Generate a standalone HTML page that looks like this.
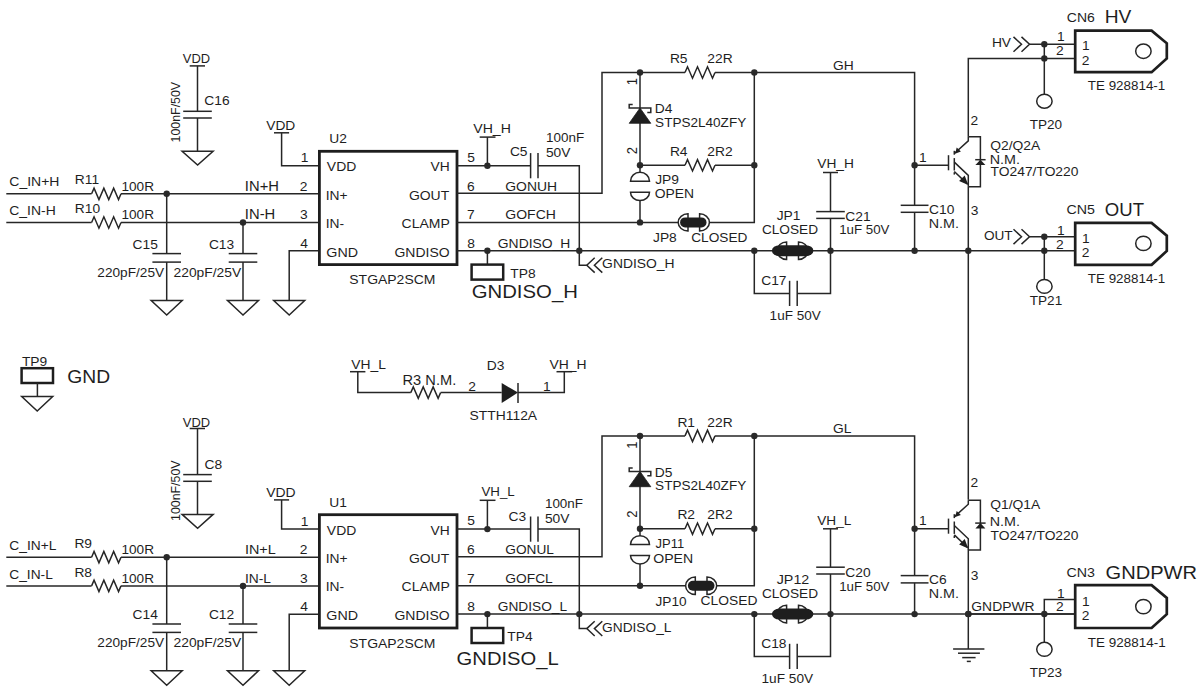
<!DOCTYPE html>
<html><head><meta charset="utf-8"><style>
html,body{margin:0;padding:0;background:#fff;}
svg{display:block;}
text{font-family:"Liberation Sans",sans-serif;fill:#1e1e1e;}
</style></head><body>
<svg width="1200" height="693" viewBox="0 0 1200 693">
<rect width="1200" height="693" fill="#fff"/>
<path d="M189.70,65.90 L205.00,65.90" fill="none" stroke="#262626" stroke-width="1.5"/>
<path d="M197.50,65.90 L197.50,111.30" fill="none" stroke="#262626" stroke-width="1.5"/>
<path d="M183.20,111.30 L211.80,111.30" fill="none" stroke="#262626" stroke-width="1.5"/>
<path d="M183.20,118.00 L211.80,118.00" fill="none" stroke="#262626" stroke-width="1.5"/>
<path d="M197.50,118.00 L197.50,151.20" fill="none" stroke="#262626" stroke-width="1.5"/>
<path d="M182.10,151.20 L213.10,151.20 L197.60,165.00 Z" fill="none" stroke="#262626" stroke-width="1.5"/>
<path d="M274.00,132.80 L289.10,132.80" fill="none" stroke="#262626" stroke-width="1.5"/>
<path d="M281.60,132.80 L281.60,165.70 L319.40,165.70" fill="none" stroke="#262626" stroke-width="1.5"/>
<path d="M6.30,193.80 L91.60,193.80" fill="none" stroke="#262626" stroke-width="1.5"/>
<path d="M91.60,193.80 L94.05,188.10 L98.95,199.50 L103.85,188.10 L108.75,199.50 L113.65,188.10 L118.55,199.50 L121.00,193.80" fill="none" stroke="#262626" stroke-width="1.5"/>
<path d="M121.00,193.80 L319.40,193.80" fill="none" stroke="#262626" stroke-width="1.5"/>
<path d="M6.30,222.50 L91.60,222.50" fill="none" stroke="#262626" stroke-width="1.5"/>
<path d="M91.60,222.50 L94.05,216.80 L98.95,228.20 L103.85,216.80 L108.75,228.20 L113.65,216.80 L118.55,228.20 L121.00,222.50" fill="none" stroke="#262626" stroke-width="1.5"/>
<path d="M121.00,222.50 L319.40,222.50" fill="none" stroke="#262626" stroke-width="1.5"/>
<circle cx="166.70" cy="193.80" r="3.2" fill="#2a2a2a"/>
<circle cx="243.00" cy="222.50" r="3.2" fill="#2a2a2a"/>
<path d="M166.70,193.80 L166.70,253.60" fill="none" stroke="#262626" stroke-width="1.5"/>
<path d="M152.40,253.60 L181.00,253.60" fill="none" stroke="#262626" stroke-width="1.5"/>
<path d="M152.40,262.10 L181.00,262.10" fill="none" stroke="#262626" stroke-width="1.5"/>
<path d="M166.70,262.10 L166.70,300.60" fill="none" stroke="#262626" stroke-width="1.5"/>
<path d="M151.20,300.60 L182.20,300.60 L166.70,315.00 Z" fill="none" stroke="#262626" stroke-width="1.5"/>
<path d="M243.00,222.50 L243.00,253.60" fill="none" stroke="#262626" stroke-width="1.5"/>
<path d="M228.70,253.60 L257.30,253.60" fill="none" stroke="#262626" stroke-width="1.5"/>
<path d="M228.70,262.10 L257.30,262.10" fill="none" stroke="#262626" stroke-width="1.5"/>
<path d="M243.00,262.10 L243.00,300.60" fill="none" stroke="#262626" stroke-width="1.5"/>
<path d="M227.50,300.60 L258.50,300.60 L243.00,315.00 Z" fill="none" stroke="#262626" stroke-width="1.5"/>
<path d="M319.40,250.80 L289.20,250.80 L289.20,300.60" fill="none" stroke="#262626" stroke-width="1.5"/>
<path d="M273.70,300.60 L304.70,300.60 L289.20,315.00 Z" fill="none" stroke="#262626" stroke-width="1.5"/>
<rect x="319.4" y="151.30" width="137.6" height="113.3" fill="none" stroke="#1e1e1e" stroke-width="2.8"/>
<path d="M457.00,165.70 L530.60,165.70" fill="none" stroke="#262626" stroke-width="1.5"/>
<circle cx="487.40" cy="165.70" r="3.2" fill="#2a2a2a"/>
<path d="M487.40,137.10 L487.40,165.70" fill="none" stroke="#262626" stroke-width="1.5"/>
<path d="M479.70,137.10 L495.50,137.10" fill="none" stroke="#262626" stroke-width="1.5"/>
<path d="M530.60,153.10 L530.60,178.30" fill="none" stroke="#262626" stroke-width="1.5"/>
<path d="M538.00,153.10 L538.00,178.30" fill="none" stroke="#262626" stroke-width="1.5"/>
<path d="M538.00,165.70 L579.30,165.70 L579.30,265.20 L586.80,265.20" fill="none" stroke="#262626" stroke-width="1.5"/>
<path d="M594.70,257.80 L586.80,265.20 L594.70,272.60" fill="none" stroke="#262626" stroke-width="1.5"/>
<path d="M602.30,257.80 L594.40,265.20 L602.30,272.60" fill="none" stroke="#262626" stroke-width="1.5"/>
<path d="M457.00,193.30 L602.00,193.30 L602.00,72.50 L685.00,72.50" fill="none" stroke="#262626" stroke-width="1.5"/>
<path d="M685.00,72.50 L687.50,66.80 L692.50,78.20 L697.50,66.80 L702.50,78.20 L707.50,66.80 L712.50,78.20 L715.00,72.50" fill="none" stroke="#262626" stroke-width="1.5"/>
<path d="M715.00,72.50 L914.60,72.50 L914.60,205.30" fill="none" stroke="#262626" stroke-width="1.5"/>
<circle cx="640.00" cy="72.50" r="3.2" fill="#2a2a2a"/>
<circle cx="754.30" cy="72.50" r="3.2" fill="#2a2a2a"/>
<path d="M457.00,222.40 L678.00,222.40" fill="none" stroke="#262626" stroke-width="1.5"/>
<path d="M708.70,222.40 L754.30,222.40 L754.30,72.50" fill="none" stroke="#262626" stroke-width="1.5"/>
<path d="M688.00,213.80 L688.00,231.00 A9.8,8.6 0 0 1 688.00,213.80 Z" fill="#fff" stroke="#262626" stroke-width="1.5"/>
<path d="M699.60,213.80 L699.60,231.00 A9.8,8.6 0 0 0 699.60,213.80 Z" fill="#fff" stroke="#262626" stroke-width="1.5"/>
<rect x="680.10" y="217.40" width="26.40" height="10.00" rx="5.0" ry="5.0" fill="#1e1e1e"/>
<circle cx="640.00" cy="222.40" r="3.2" fill="#2a2a2a"/>
<path d="M457.00,250.70 L1074.80,250.70" fill="none" stroke="#262626" stroke-width="1.5"/>
<circle cx="487.40" cy="250.70" r="3.2" fill="#2a2a2a"/>
<circle cx="579.30" cy="250.70" r="3.2" fill="#2a2a2a"/>
<circle cx="754.30" cy="250.70" r="3.2" fill="#2a2a2a"/>
<circle cx="830.50" cy="250.70" r="3.2" fill="#2a2a2a"/>
<circle cx="914.60" cy="250.70" r="3.2" fill="#2a2a2a"/>
<circle cx="968.30" cy="250.70" r="3.2" fill="#2a2a2a"/>
<path d="M487.40,250.70 L487.40,264.60" fill="none" stroke="#262626" stroke-width="1.5"/>
<rect x="471.6" y="264.60" width="31.6" height="15" fill="none" stroke="#1e1e1e" stroke-width="2.5"/>
<path d="M640.00,72.50 L640.00,165.30" fill="none" stroke="#262626" stroke-width="1.5"/>
<path d="M640.00,108.00 L629.20,123.30 L650.80,123.30 Z" fill="#1e1e1e" stroke="#1e1e1e" stroke-width="0.8"/>
<path d="M632.70,104.60 L629.20,104.60 L629.20,108.00 L650.80,108.00 L650.80,112.40 L647.30,112.40" fill="none" stroke="#262626" stroke-width="1.5"/>
<circle cx="640.00" cy="165.30" r="3.2" fill="#2a2a2a"/>
<path d="M640.00,165.30 L685.00,165.30" fill="none" stroke="#262626" stroke-width="1.5"/>
<path d="M685.00,165.30 L687.50,159.60 L692.50,171.00 L697.50,159.60 L702.50,171.00 L707.50,159.60 L712.50,171.00 L715.00,165.30" fill="none" stroke="#262626" stroke-width="1.5"/>
<path d="M715.00,165.30 L754.30,165.30" fill="none" stroke="#262626" stroke-width="1.5"/>
<circle cx="754.30" cy="165.30" r="3.2" fill="#2a2a2a"/>
<path d="M630.50,181.20 A9.5,8.899999999999977 0 0 1 649.50,181.20 Z" fill="none" stroke="#262626" stroke-width="1.5"/>
<path d="M630.50,192.20 A9.5,8.400000000000006 0 0 0 649.50,192.20 Z" fill="none" stroke="#262626" stroke-width="1.5"/>
<path d="M640.00,165.30 L640.00,172.30" fill="none" stroke="#262626" stroke-width="1.5"/>
<path d="M640.00,200.60 L640.00,222.40" fill="none" stroke="#262626" stroke-width="1.5"/>
<circle cx="914.60" cy="165.30" r="3.2" fill="#2a2a2a"/>
<path d="M900.70,205.30 L928.50,205.30" fill="none" stroke="#262626" stroke-width="1.5"/>
<path d="M900.70,212.30 L928.50,212.30" fill="none" stroke="#262626" stroke-width="1.5"/>
<path d="M914.60,212.30 L914.60,250.70" fill="none" stroke="#262626" stroke-width="1.5"/>
<path d="M914.60,165.30 L948.50,165.30" fill="none" stroke="#262626" stroke-width="1.5"/>
<path d="M948.50,155.20 L948.50,170.30" fill="none" stroke="#262626" stroke-width="1.5"/>
<path d="M954.30,150.80 L954.30,154.70" fill="none" stroke="#262626" stroke-width="1.5"/>
<path d="M954.30,158.10 L954.30,170.50" fill="none" stroke="#262626" stroke-width="1.5"/>
<path d="M954.30,172.30 L954.30,174.60" fill="none" stroke="#262626" stroke-width="1.5"/>
<path d="M954.30,153.50 L968.30,140.80 L968.30,136.80" fill="none" stroke="#262626" stroke-width="1.5"/>
<path d="M955.10,153.70 L956.70,147.50 L960.90,151.50 Z" fill="#1e1e1e"/>
<path d="M954.30,162.10 L968.30,175.40 L968.30,186.70" fill="none" stroke="#262626" stroke-width="1.5"/>
<path d="M954.30,171.50 L967.30,183.90" fill="none" stroke="#262626" stroke-width="1.5"/>
<path d="M968.30,185.10 L959.10,181.10 L964.70,175.50 Z" fill="#1e1e1e"/>
<path d="M968.30,136.80 L980.40,136.80 L980.40,186.70 L968.30,186.70" fill="none" stroke="#262626" stroke-width="1.5"/>
<path d="M980.40,159.70 L975.40,165.10 L985.40,165.10 Z" fill="#1e1e1e"/>
<path d="M975.20,159.70 L985.60,159.70" fill="none" stroke="#262626" stroke-width="1.5"/>
<path d="M823.00,172.50 L838.00,172.50" fill="none" stroke="#262626" stroke-width="1.5"/>
<path d="M830.50,172.50 L830.50,211.60" fill="none" stroke="#262626" stroke-width="1.5"/>
<path d="M816.20,211.60 L844.80,211.60" fill="none" stroke="#262626" stroke-width="1.5"/>
<path d="M816.20,218.40 L844.80,218.40" fill="none" stroke="#262626" stroke-width="1.5"/>
<path d="M830.50,218.40 L830.50,250.70" fill="none" stroke="#262626" stroke-width="1.5"/>
<path d="M786.60,241.90 L786.60,259.50 A9.5,8.8 0 0 1 786.60,241.90 Z" fill="#fff" stroke="#262626" stroke-width="1.5"/>
<path d="M798.50,241.90 L798.50,259.50 A9.5,8.8 0 0 0 798.50,241.90 Z" fill="#fff" stroke="#262626" stroke-width="1.5"/>
<rect x="771.90" y="245.20" width="41.50" height="11.00" rx="7.5" ry="5.5" fill="#1e1e1e"/>
<path d="M754.30,250.70 L754.30,293.40 L789.60,293.40" fill="none" stroke="#262626" stroke-width="1.5"/>
<path d="M797.20,293.40 L830.50,293.40 L830.50,250.70" fill="none" stroke="#262626" stroke-width="1.5"/>
<path d="M789.60,280.80 L789.60,306.00" fill="none" stroke="#262626" stroke-width="1.5"/>
<path d="M797.20,280.80 L797.20,306.00" fill="none" stroke="#262626" stroke-width="1.5"/>
<path d="M189.70,428.50 L205.00,428.50" fill="none" stroke="#262626" stroke-width="1.5"/>
<path d="M197.50,428.50 L197.50,474.60" fill="none" stroke="#262626" stroke-width="1.5"/>
<path d="M183.20,474.60 L211.80,474.60" fill="none" stroke="#262626" stroke-width="1.5"/>
<path d="M183.20,481.30 L211.80,481.30" fill="none" stroke="#262626" stroke-width="1.5"/>
<path d="M197.50,481.30 L197.50,514.40" fill="none" stroke="#262626" stroke-width="1.5"/>
<path d="M182.10,514.40 L213.10,514.40 L197.60,528.20 Z" fill="none" stroke="#262626" stroke-width="1.5"/>
<path d="M274.00,499.90 L289.10,499.90" fill="none" stroke="#262626" stroke-width="1.5"/>
<path d="M281.60,499.90 L281.60,529.10 L319.40,529.10" fill="none" stroke="#262626" stroke-width="1.5"/>
<path d="M6.30,557.20 L91.60,557.20" fill="none" stroke="#262626" stroke-width="1.5"/>
<path d="M91.60,557.20 L94.05,551.50 L98.95,562.90 L103.85,551.50 L108.75,562.90 L113.65,551.50 L118.55,562.90 L121.00,557.20" fill="none" stroke="#262626" stroke-width="1.5"/>
<path d="M121.00,557.20 L319.40,557.20" fill="none" stroke="#262626" stroke-width="1.5"/>
<path d="M6.30,585.90 L91.60,585.90" fill="none" stroke="#262626" stroke-width="1.5"/>
<path d="M91.60,585.90 L94.05,580.20 L98.95,591.60 L103.85,580.20 L108.75,591.60 L113.65,580.20 L118.55,591.60 L121.00,585.90" fill="none" stroke="#262626" stroke-width="1.5"/>
<path d="M121.00,585.90 L319.40,585.90" fill="none" stroke="#262626" stroke-width="1.5"/>
<circle cx="166.70" cy="557.20" r="3.2" fill="#2a2a2a"/>
<circle cx="243.00" cy="585.90" r="3.2" fill="#2a2a2a"/>
<path d="M166.70,557.20 L166.70,624.00" fill="none" stroke="#262626" stroke-width="1.5"/>
<path d="M152.40,624.00 L181.00,624.00" fill="none" stroke="#262626" stroke-width="1.5"/>
<path d="M152.40,632.40 L181.00,632.40" fill="none" stroke="#262626" stroke-width="1.5"/>
<path d="M166.70,632.40 L166.70,670.80" fill="none" stroke="#262626" stroke-width="1.5"/>
<path d="M151.20,670.80 L182.20,670.80 L166.70,685.20 Z" fill="none" stroke="#262626" stroke-width="1.5"/>
<path d="M243.00,585.90 L243.00,624.00" fill="none" stroke="#262626" stroke-width="1.5"/>
<path d="M228.70,624.00 L257.30,624.00" fill="none" stroke="#262626" stroke-width="1.5"/>
<path d="M228.70,632.40 L257.30,632.40" fill="none" stroke="#262626" stroke-width="1.5"/>
<path d="M243.00,632.40 L243.00,670.80" fill="none" stroke="#262626" stroke-width="1.5"/>
<path d="M227.50,670.80 L258.50,670.80 L243.00,685.20 Z" fill="none" stroke="#262626" stroke-width="1.5"/>
<path d="M319.40,614.20 L289.20,614.20 L289.20,670.80" fill="none" stroke="#262626" stroke-width="1.5"/>
<path d="M273.70,670.80 L304.70,670.80 L289.20,685.20 Z" fill="none" stroke="#262626" stroke-width="1.5"/>
<rect x="319.4" y="514.70" width="137.6" height="113.3" fill="none" stroke="#1e1e1e" stroke-width="2.8"/>
<path d="M457.00,529.10 L530.60,529.10" fill="none" stroke="#262626" stroke-width="1.5"/>
<circle cx="487.40" cy="529.10" r="3.2" fill="#2a2a2a"/>
<path d="M487.40,500.30 L487.40,529.10" fill="none" stroke="#262626" stroke-width="1.5"/>
<path d="M479.70,500.30 L495.50,500.30" fill="none" stroke="#262626" stroke-width="1.5"/>
<path d="M530.60,516.50 L530.60,541.70" fill="none" stroke="#262626" stroke-width="1.5"/>
<path d="M538.00,516.50 L538.00,541.70" fill="none" stroke="#262626" stroke-width="1.5"/>
<path d="M538.00,529.10 L579.30,529.10 L579.30,628.60 L586.80,628.60" fill="none" stroke="#262626" stroke-width="1.5"/>
<path d="M594.70,621.20 L586.80,628.60 L594.70,636.00" fill="none" stroke="#262626" stroke-width="1.5"/>
<path d="M602.30,621.20 L594.40,628.60 L602.30,636.00" fill="none" stroke="#262626" stroke-width="1.5"/>
<path d="M457.00,556.70 L602.00,556.70 L602.00,435.90 L685.00,435.90" fill="none" stroke="#262626" stroke-width="1.5"/>
<path d="M685.00,435.90 L687.50,430.20 L692.50,441.60 L697.50,430.20 L702.50,441.60 L707.50,430.20 L712.50,441.60 L715.00,435.90" fill="none" stroke="#262626" stroke-width="1.5"/>
<path d="M715.00,435.90 L914.60,435.90 L914.60,575.60" fill="none" stroke="#262626" stroke-width="1.5"/>
<circle cx="640.00" cy="435.90" r="3.2" fill="#2a2a2a"/>
<circle cx="754.30" cy="435.90" r="3.2" fill="#2a2a2a"/>
<path d="M457.00,585.80 L686.00,585.80" fill="none" stroke="#262626" stroke-width="1.5"/>
<path d="M716.00,585.80 L754.30,585.80 L754.30,435.90" fill="none" stroke="#262626" stroke-width="1.5"/>
<path d="M695.30,577.10 L695.30,594.50 A9.7,8.7 0 0 1 695.30,577.10 Z" fill="#fff" stroke="#262626" stroke-width="1.5"/>
<path d="M707.00,577.10 L707.00,594.50 A9.7,8.7 0 0 0 707.00,577.10 Z" fill="#fff" stroke="#262626" stroke-width="1.5"/>
<rect x="687.90" y="580.80" width="26.60" height="10.00" rx="5.0" ry="5.0" fill="#1e1e1e"/>
<circle cx="640.00" cy="585.80" r="3.2" fill="#2a2a2a"/>
<path d="M457.00,614.10 L1074.80,614.10" fill="none" stroke="#262626" stroke-width="1.5"/>
<circle cx="487.40" cy="614.10" r="3.2" fill="#2a2a2a"/>
<circle cx="579.30" cy="614.10" r="3.2" fill="#2a2a2a"/>
<circle cx="754.30" cy="614.10" r="3.2" fill="#2a2a2a"/>
<circle cx="830.50" cy="614.10" r="3.2" fill="#2a2a2a"/>
<circle cx="914.60" cy="614.10" r="3.2" fill="#2a2a2a"/>
<circle cx="968.30" cy="614.10" r="3.2" fill="#2a2a2a"/>
<path d="M487.40,614.10 L487.40,628.00" fill="none" stroke="#262626" stroke-width="1.5"/>
<rect x="471.6" y="628.00" width="31.6" height="15" fill="none" stroke="#1e1e1e" stroke-width="2.5"/>
<path d="M640.00,435.90 L640.00,528.70" fill="none" stroke="#262626" stroke-width="1.5"/>
<path d="M640.00,471.40 L629.20,486.70 L650.80,486.70 Z" fill="#1e1e1e" stroke="#1e1e1e" stroke-width="0.8"/>
<path d="M632.70,468.00 L629.20,468.00 L629.20,471.40 L650.80,471.40 L650.80,475.80 L647.30,475.80" fill="none" stroke="#262626" stroke-width="1.5"/>
<circle cx="640.00" cy="528.70" r="3.2" fill="#2a2a2a"/>
<path d="M640.00,528.70 L685.00,528.70" fill="none" stroke="#262626" stroke-width="1.5"/>
<path d="M685.00,528.70 L687.50,523.00 L692.50,534.40 L697.50,523.00 L702.50,534.40 L707.50,523.00 L712.50,534.40 L715.00,528.70" fill="none" stroke="#262626" stroke-width="1.5"/>
<path d="M715.00,528.70 L754.30,528.70" fill="none" stroke="#262626" stroke-width="1.5"/>
<circle cx="754.30" cy="528.70" r="3.2" fill="#2a2a2a"/>
<path d="M630.50,544.60 A9.5,8.899999999999864 0 0 1 649.50,544.60 Z" fill="none" stroke="#262626" stroke-width="1.5"/>
<path d="M630.50,555.60 A9.5,8.400000000000091 0 0 0 649.50,555.60 Z" fill="none" stroke="#262626" stroke-width="1.5"/>
<path d="M640.00,528.70 L640.00,535.70" fill="none" stroke="#262626" stroke-width="1.5"/>
<path d="M640.00,564.00 L640.00,585.80" fill="none" stroke="#262626" stroke-width="1.5"/>
<circle cx="914.60" cy="528.70" r="3.2" fill="#2a2a2a"/>
<path d="M900.70,575.60 L928.50,575.60" fill="none" stroke="#262626" stroke-width="1.5"/>
<path d="M900.70,582.90 L928.50,582.90" fill="none" stroke="#262626" stroke-width="1.5"/>
<path d="M914.60,582.90 L914.60,614.10" fill="none" stroke="#262626" stroke-width="1.5"/>
<path d="M914.60,528.70 L948.50,528.70" fill="none" stroke="#262626" stroke-width="1.5"/>
<path d="M948.50,518.60 L948.50,533.70" fill="none" stroke="#262626" stroke-width="1.5"/>
<path d="M954.30,514.20 L954.30,518.10" fill="none" stroke="#262626" stroke-width="1.5"/>
<path d="M954.30,521.50 L954.30,533.90" fill="none" stroke="#262626" stroke-width="1.5"/>
<path d="M954.30,535.70 L954.30,538.00" fill="none" stroke="#262626" stroke-width="1.5"/>
<path d="M954.30,516.90 L968.30,504.20 L968.30,500.20" fill="none" stroke="#262626" stroke-width="1.5"/>
<path d="M955.10,517.10 L956.70,510.90 L960.90,514.90 Z" fill="#1e1e1e"/>
<path d="M954.30,525.50 L968.30,538.80 L968.30,550.10" fill="none" stroke="#262626" stroke-width="1.5"/>
<path d="M954.30,534.90 L967.30,547.30" fill="none" stroke="#262626" stroke-width="1.5"/>
<path d="M968.30,548.50 L959.10,544.50 L964.70,538.90 Z" fill="#1e1e1e"/>
<path d="M968.30,500.20 L980.40,500.20 L980.40,550.10 L968.30,550.10" fill="none" stroke="#262626" stroke-width="1.5"/>
<path d="M980.40,523.10 L975.40,528.50 L985.40,528.50 Z" fill="#1e1e1e"/>
<path d="M975.20,523.10 L985.60,523.10" fill="none" stroke="#262626" stroke-width="1.5"/>
<path d="M823.00,528.80 L838.00,528.80" fill="none" stroke="#262626" stroke-width="1.5"/>
<path d="M830.50,528.80 L830.50,567.20" fill="none" stroke="#262626" stroke-width="1.5"/>
<path d="M816.20,567.20 L844.80,567.20" fill="none" stroke="#262626" stroke-width="1.5"/>
<path d="M816.20,574.00 L844.80,574.00" fill="none" stroke="#262626" stroke-width="1.5"/>
<path d="M830.50,574.00 L830.50,614.10" fill="none" stroke="#262626" stroke-width="1.5"/>
<path d="M786.60,605.30 L786.60,622.90 A9.5,8.8 0 0 1 786.60,605.30 Z" fill="#fff" stroke="#262626" stroke-width="1.5"/>
<path d="M798.50,605.30 L798.50,622.90 A9.5,8.8 0 0 0 798.50,605.30 Z" fill="#fff" stroke="#262626" stroke-width="1.5"/>
<rect x="771.90" y="608.60" width="41.50" height="11.00" rx="7.5" ry="5.5" fill="#1e1e1e"/>
<path d="M754.30,614.10 L754.30,656.40 L789.60,656.40" fill="none" stroke="#262626" stroke-width="1.5"/>
<path d="M797.20,656.40 L830.50,656.40 L830.50,614.10" fill="none" stroke="#262626" stroke-width="1.5"/>
<path d="M789.60,643.80 L789.60,669.00" fill="none" stroke="#262626" stroke-width="1.5"/>
<path d="M797.20,643.80 L797.20,669.00" fill="none" stroke="#262626" stroke-width="1.5"/>
<path d="M968.30,136.80 L968.30,58.40 L1074.80,58.40" fill="none" stroke="#262626" stroke-width="1.5"/>
<path d="M968.30,186.70 L968.30,499.80" fill="none" stroke="#262626" stroke-width="1.5"/>
<path d="M968.30,549.70 L968.30,649.00" fill="none" stroke="#262626" stroke-width="1.5"/>
<path d="M953.10,649.00 L984.40,649.00" fill="none" stroke="#262626" stroke-width="1.5"/>
<path d="M958.00,653.20 L979.90,653.20" fill="none" stroke="#262626" stroke-width="1.5"/>
<path d="M962.20,657.60 L975.60,657.60" fill="none" stroke="#262626" stroke-width="1.5"/>
<path d="M966.80,661.40 L970.80,661.40" fill="none" stroke="#262626" stroke-width="1.5"/>
<circle cx="968.30" cy="614.00" r="3.2" fill="#2a2a2a"/>
<path d="M1013.50,36.90 L1021.50,44.30 L1013.50,51.70" fill="none" stroke="#262626" stroke-width="1.5"/>
<path d="M1021.50,36.90 L1029.50,44.30 L1021.50,51.70" fill="none" stroke="#262626" stroke-width="1.5"/>
<path d="M1029.50,44.30 L1074.80,44.30" fill="none" stroke="#262626" stroke-width="1.5"/>
<circle cx="1044.30" cy="44.30" r="3.2" fill="#2a2a2a"/>
<circle cx="1044.30" cy="58.40" r="3.2" fill="#2a2a2a"/>
<path d="M1044.30,44.30 L1044.30,94.30" fill="none" stroke="#262626" stroke-width="1.5"/>
<ellipse cx="1044.4" cy="101.2" rx="7.7" ry="6.95" fill="none" stroke="#262626" stroke-width="1.5"/>
<path d="M1075.2,30.6 L1151.6,30.6 L1166.8,43.3 L1166.8,58.400000000000006 L1151.6,72.2 L1075.2,72.2 Z" fill="none" stroke="#1e1e1e" stroke-width="2.7" stroke-linejoin="miter"/>
<ellipse cx="1143.4" cy="51.20" rx="7.7" ry="7.2" fill="none" stroke="#262626" stroke-width="1.5"/>
<path d="M1013.50,229.30 L1021.50,236.70 L1013.50,244.10" fill="none" stroke="#262626" stroke-width="1.5"/>
<path d="M1021.50,229.30 L1029.50,236.70 L1021.50,244.10" fill="none" stroke="#262626" stroke-width="1.5"/>
<path d="M1029.50,236.70 L1074.80,236.70" fill="none" stroke="#262626" stroke-width="1.5"/>
<circle cx="1044.30" cy="236.70" r="3.2" fill="#2a2a2a"/>
<circle cx="1044.30" cy="250.70" r="3.2" fill="#2a2a2a"/>
<path d="M1044.30,236.70 L1044.30,279.50" fill="none" stroke="#262626" stroke-width="1.5"/>
<ellipse cx="1044.4" cy="286.4" rx="7.7" ry="6.95" fill="none" stroke="#262626" stroke-width="1.5"/>
<path d="M1075.2,222.9 L1151.6,222.9 L1166.8,235.6 L1166.8,251.0 L1151.6,264.8 L1075.2,264.8 Z" fill="none" stroke="#1e1e1e" stroke-width="2.7" stroke-linejoin="miter"/>
<ellipse cx="1143.4" cy="243.40" rx="7.7" ry="7.2" fill="none" stroke="#262626" stroke-width="1.5"/>
<path d="M1044.30,614.00 L1044.30,599.60 L1074.80,599.60" fill="none" stroke="#262626" stroke-width="1.5"/>
<path d="M968.30,614.00 L1074.80,614.00" fill="none" stroke="#262626" stroke-width="1.5"/>
<circle cx="1044.30" cy="614.00" r="3.2" fill="#2a2a2a"/>
<path d="M1044.30,614.00 L1044.30,642.40" fill="none" stroke="#262626" stroke-width="1.5"/>
<ellipse cx="1044.4" cy="649.3" rx="7.7" ry="6.95" fill="none" stroke="#262626" stroke-width="1.5"/>
<path d="M1075.2,585.2 L1151.6,585.2 L1166.8,597.9000000000001 L1166.8,614.2 L1151.6,628.0 L1075.2,628.0 Z" fill="none" stroke="#1e1e1e" stroke-width="2.7" stroke-linejoin="miter"/>
<ellipse cx="1143.4" cy="606.60" rx="7.7" ry="7.2" fill="none" stroke="#262626" stroke-width="1.5"/>
<rect x="21.6" y="368.2" width="31.4" height="14.8" fill="none" stroke="#1e1e1e" stroke-width="2.5"/>
<path d="M37.40,383.00 L37.40,396.60" fill="none" stroke="#262626" stroke-width="1.5"/>
<path d="M21.70,396.60 L52.70,396.60 L37.20,411.00 Z" fill="none" stroke="#262626" stroke-width="1.5"/>
<path d="M350.00,371.70 L365.40,371.70" fill="none" stroke="#262626" stroke-width="1.5"/>
<path d="M357.80,371.70 L357.80,392.60 L410.80,392.60" fill="none" stroke="#262626" stroke-width="1.5"/>
<path d="M410.80,392.60 L413.28,386.90 L418.25,398.30 L423.22,386.90 L428.18,398.30 L433.15,386.90 L438.12,398.30 L440.60,392.60" fill="none" stroke="#262626" stroke-width="1.5"/>
<path d="M440.60,392.60 L501.70,392.60" fill="none" stroke="#262626" stroke-width="1.5"/>
<path d="M501.7,383 L501.7,403 L518,392.6 Z" fill="#1e1e1e"/>
<path d="M518.00,383.00 L518.00,403.00" fill="none" stroke="#262626" stroke-width="1.5"/>
<path d="M518.00,392.60 L564.30,392.60 L564.30,371.70" fill="none" stroke="#262626" stroke-width="1.5"/>
<path d="M556.50,371.70 L572.20,371.70" fill="none" stroke="#262626" stroke-width="1.5"/>
<text transform="translate(182.87,63.00) scale(1,0.94)" font-size="12.93">VDD</text>
<text transform="translate(204.31,105.40) scale(1,0.94)" font-size="13.80">C16</text>
<text transform="translate(179.50,141.40) rotate(-90) scale(0.94,1)" x="-1.05" y="0" font-size="13.14">100nF/50V</text>
<text transform="translate(266.26,130.30) scale(1,0.94)" font-size="13.76">VDD</text>
<text transform="translate(9.30,185.70) scale(1,0.94)" font-size="14.00">C_IN+H</text>
<text transform="translate(9.30,214.90) scale(1,0.94)" font-size="13.94">C_IN-H</text>
<text transform="translate(74.80,183.80) scale(1,0.94)" font-size="13.80">R11</text>
<text transform="translate(74.80,212.70) scale(1,0.94)" font-size="13.80">R10</text>
<text transform="translate(244.87,190.90) scale(1,0.94)" font-size="14.77">IN+H</text>
<text transform="translate(244.87,219.20) scale(1,0.94)" font-size="14.79">IN-H</text>
<text transform="translate(121.41,190.90) scale(1,0.94)" font-size="13.63">100R</text>
<text transform="translate(121.41,219.20) scale(1,0.94)" font-size="13.63">100R</text>
<text transform="translate(132.61,248.50) scale(1,0.94)" font-size="13.80">C15</text>
<text transform="translate(208.91,248.50) scale(1,0.94)" font-size="13.80">C13</text>
<text transform="translate(97.32,277.20) scale(1,0.94)" font-size="13.66">220pF/25V</text>
<text transform="translate(173.51,277.20) scale(1,0.94)" font-size="13.84">220pF/25V</text>
<text transform="translate(329.20,143.40) scale(1,0.94)" font-size="13.80">U2</text>
<text transform="translate(300.70,162.40) scale(1,0.94)" font-size="13.80">1</text>
<text transform="translate(299.81,190.90) scale(1,0.94)" font-size="13.80">2</text>
<text transform="translate(299.95,219.20) scale(1,0.94)" font-size="13.80">3</text>
<text transform="translate(300.22,247.70) scale(1,0.94)" font-size="13.80">4</text>
<text transform="translate(326.86,171.20) scale(1,0.94)" font-size="13.95">VDD</text>
<text transform="translate(325.76,199.70) scale(1,0.94)" font-size="13.80">IN+</text>
<text transform="translate(325.76,228.00) scale(1,0.94)" font-size="13.80">IN-</text>
<text transform="translate(326.29,256.60) scale(1,0.94)" font-size="14.29">GND</text>
<text transform="translate(430.46,171.20) scale(1,0.94)" font-size="13.80">VH</text>
<text transform="translate(408.90,199.70) scale(1,0.94)" font-size="13.97">GOUT</text>
<text transform="translate(401.60,228.00) scale(1,0.94)" font-size="13.98">CLAMP</text>
<text transform="translate(394.50,256.60) scale(1,0.94)" font-size="13.97">GNDISO</text>
<text transform="translate(467.25,162.00) scale(1,0.94)" font-size="13.80">5</text>
<text transform="translate(467.11,190.90) scale(1,0.94)" font-size="13.80">6</text>
<text transform="translate(467.11,219.20) scale(1,0.94)" font-size="13.80">7</text>
<text transform="translate(467.25,247.70) scale(1,0.94)" font-size="13.80">8</text>
<text transform="translate(349.30,284.10) scale(1,0.94)" font-size="13.97">STGAP2SCM</text>
<text transform="translate(473.26,133.00) scale(1,0.94)" font-size="14.11">VH_H</text>
<text transform="translate(509.91,155.50) scale(1,0.94)" font-size="13.80">C5</text>
<text transform="translate(546.12,142.30) scale(1,0.94)" font-size="13.46">100nF</text>
<text transform="translate(545.95,156.70) scale(1,0.94)" font-size="13.80">50V</text>
<text transform="translate(602.11,268.40) scale(1,0.94)" font-size="13.89">GNDISO_H</text>
<text transform="translate(505.30,190.60) scale(1,0.94)" font-size="13.93">GONUH</text>
<text transform="translate(505.30,219.10) scale(1,0.94)" font-size="14.02">GOFCH</text>
<text transform="translate(653.02,241.90) scale(1,0.94)" font-size="13.80">JP8</text>
<text transform="translate(691.22,241.90) scale(1,0.94)" font-size="13.67">CLOSED</text>
<text transform="translate(497.81,247.70) scale(1,0.94)" font-size="13.89">GNDISO_H</text>
<text transform="translate(510.32,278.00) scale(1,0.94)" font-size="13.80">TP8</text>
<text transform="translate(471.68,298.20) scale(1,0.94)" font-size="20.35">GNDISO_H</text>
<text transform="translate(636.60,84.20) rotate(-90) scale(0.94,1)" x="-1.10" y="0" font-size="13.80">1</text>
<text transform="translate(636.60,153.60) rotate(-90) scale(0.94,1)" x="-0.69" y="0" font-size="13.80">2</text>
<text transform="translate(669.90,63.20) scale(1,0.94)" font-size="13.80">R5</text>
<text transform="translate(707.31,63.20) scale(1,0.94)" font-size="13.80">22R</text>
<text transform="translate(654.70,113.20) scale(1,0.94)" font-size="13.80">D4</text>
<text transform="translate(655.12,127.10) scale(1,0.94)" font-size="13.56">STPS2L40ZFY</text>
<text transform="translate(669.90,156.20) scale(1,0.94)" font-size="13.80">R4</text>
<text transform="translate(707.31,156.20) scale(1,0.94)" font-size="13.80">2R2</text>
<text transform="translate(655.22,183.80) scale(1,0.94)" font-size="13.80">JP9</text>
<text transform="translate(654.81,198.00) scale(1,0.94)" font-size="13.89">OPEN</text>
<text transform="translate(833.11,70.30) scale(1,0.94)" font-size="13.80">GH</text>
<text transform="translate(919.10,161.60) scale(1,0.94)" font-size="13.80">1</text>
<text transform="translate(970.61,124.60) scale(1,0.94)" font-size="13.80">2</text>
<text transform="translate(970.75,215.40) scale(1,0.94)" font-size="13.80">3</text>
<text transform="translate(929.11,214.10) scale(1,0.94)" font-size="13.80">C10</text>
<text transform="translate(928.65,228.00) scale(1,0.94)" font-size="14.33">N.M.</text>
<text transform="translate(990.21,150.00) scale(1,0.94)" font-size="13.85">Q2/Q2A</text>
<text transform="translate(989.75,163.90) scale(1,0.94)" font-size="14.33">N.M.</text>
<text transform="translate(990.62,176.20) scale(1,0.94)" font-size="13.83">TO247/TO220</text>
<text transform="translate(817.26,167.90) scale(1,0.94)" font-size="13.72">VH_H</text>
<text transform="translate(845.31,220.90) scale(1,0.94)" font-size="13.80">C21</text>
<text transform="translate(839.13,234.30) scale(1,0.94)" font-size="13.33">1uF 50V</text>
<text transform="translate(776.72,220.40) scale(1,0.94)" font-size="13.80">JP1</text>
<text transform="translate(761.92,234.30) scale(1,0.94)" font-size="13.67">CLOSED</text>
<text transform="translate(761.21,284.80) scale(1,0.94)" font-size="13.80">C17</text>
<text transform="translate(769.62,320.00) scale(1,0.94)" font-size="13.55">1uF 50V</text>
<text transform="translate(182.87,426.50) scale(1,0.94)" font-size="12.93">VDD</text>
<text transform="translate(204.61,469.40) scale(1,0.94)" font-size="13.80">C8</text>
<text transform="translate(179.50,520.00) rotate(-90) scale(0.94,1)" x="-1.05" y="0" font-size="13.16">100nF/50V</text>
<text transform="translate(266.26,497.40) scale(1,0.94)" font-size="13.95">VDD</text>
<text transform="translate(9.31,549.60) scale(1,0.94)" font-size="13.77">C_IN+L</text>
<text transform="translate(9.31,578.60) scale(1,0.94)" font-size="13.75">C_IN-L</text>
<text transform="translate(74.40,547.80) scale(1,0.94)" font-size="13.80">R9</text>
<text transform="translate(74.40,576.60) scale(1,0.94)" font-size="13.80">R8</text>
<text transform="translate(244.90,554.10) scale(1,0.94)" font-size="14.41">IN+L</text>
<text transform="translate(244.96,583.10) scale(1,0.94)" font-size="13.80">IN-L</text>
<text transform="translate(121.41,554.30) scale(1,0.94)" font-size="13.63">100R</text>
<text transform="translate(121.41,582.60) scale(1,0.94)" font-size="13.63">100R</text>
<text transform="translate(132.61,618.50) scale(1,0.94)" font-size="13.80">C14</text>
<text transform="translate(208.91,618.50) scale(1,0.94)" font-size="13.80">C12</text>
<text transform="translate(97.32,647.20) scale(1,0.94)" font-size="13.66">220pF/25V</text>
<text transform="translate(173.51,647.20) scale(1,0.94)" font-size="13.84">220pF/25V</text>
<text transform="translate(329.20,506.80) scale(1,0.94)" font-size="13.80">U1</text>
<text transform="translate(300.70,525.80) scale(1,0.94)" font-size="13.80">1</text>
<text transform="translate(299.81,554.30) scale(1,0.94)" font-size="13.80">2</text>
<text transform="translate(299.95,582.60) scale(1,0.94)" font-size="13.80">3</text>
<text transform="translate(300.22,611.10) scale(1,0.94)" font-size="13.80">4</text>
<text transform="translate(326.86,534.60) scale(1,0.94)" font-size="13.95">VDD</text>
<text transform="translate(325.76,563.10) scale(1,0.94)" font-size="13.80">IN+</text>
<text transform="translate(325.76,591.40) scale(1,0.94)" font-size="13.80">IN-</text>
<text transform="translate(326.29,620.00) scale(1,0.94)" font-size="14.29">GND</text>
<text transform="translate(430.46,534.60) scale(1,0.94)" font-size="13.80">VH</text>
<text transform="translate(408.90,563.10) scale(1,0.94)" font-size="13.97">GOUT</text>
<text transform="translate(401.60,591.40) scale(1,0.94)" font-size="13.98">CLAMP</text>
<text transform="translate(394.50,620.00) scale(1,0.94)" font-size="13.97">GNDISO</text>
<text transform="translate(467.25,525.40) scale(1,0.94)" font-size="13.80">5</text>
<text transform="translate(467.11,554.30) scale(1,0.94)" font-size="13.80">6</text>
<text transform="translate(467.11,582.60) scale(1,0.94)" font-size="13.80">7</text>
<text transform="translate(467.25,611.10) scale(1,0.94)" font-size="13.80">8</text>
<text transform="translate(349.30,647.50) scale(1,0.94)" font-size="13.97">STGAP2SCM</text>
<text transform="translate(481.47,496.30) scale(1,0.94)" font-size="13.33">VH_L</text>
<text transform="translate(508.61,520.70) scale(1,0.94)" font-size="13.80">C3</text>
<text transform="translate(544.92,507.80) scale(1,0.94)" font-size="13.46">100nF</text>
<text transform="translate(544.95,522.90) scale(1,0.94)" font-size="13.80">50V</text>
<text transform="translate(602.11,631.80) scale(1,0.94)" font-size="13.72">GNDISO_L</text>
<text transform="translate(505.32,554.00) scale(1,0.94)" font-size="13.69">GONUL</text>
<text transform="translate(505.31,582.50) scale(1,0.94)" font-size="13.78">GOFCL</text>
<text transform="translate(655.53,605.90) scale(1,0.94)" font-size="13.65">JP10</text>
<text transform="translate(700.61,605.40) scale(1,0.94)" font-size="13.84">CLOSED</text>
<text transform="translate(497.81,611.10) scale(1,0.94)" font-size="13.72">GNDISO_L</text>
<text transform="translate(507.32,640.50) scale(1,0.94)" font-size="13.80">TP4</text>
<text transform="translate(456.59,664.50) scale(1,0.94)" font-size="20.20">GNDISO_L</text>
<text transform="translate(636.60,447.60) rotate(-90) scale(0.94,1)" x="-1.10" y="0" font-size="13.80">1</text>
<text transform="translate(636.60,517.00) rotate(-90) scale(0.94,1)" x="-0.69" y="0" font-size="13.80">2</text>
<text transform="translate(677.40,426.50) scale(1,0.94)" font-size="13.80">R1</text>
<text transform="translate(707.31,426.50) scale(1,0.94)" font-size="13.80">22R</text>
<text transform="translate(654.70,476.50) scale(1,0.94)" font-size="13.80">D5</text>
<text transform="translate(655.12,490.40) scale(1,0.94)" font-size="13.56">STPS2L40ZFY</text>
<text transform="translate(677.40,519.20) scale(1,0.94)" font-size="13.80">R2</text>
<text transform="translate(707.31,519.20) scale(1,0.94)" font-size="13.80">2R2</text>
<text transform="translate(655.54,547.70) scale(1,0.94)" font-size="12.99">JP11</text>
<text transform="translate(653.30,562.90) scale(1,0.94)" font-size="14.07">OPEN</text>
<text transform="translate(833.11,433.40) scale(1,0.94)" font-size="13.80">GL</text>
<text transform="translate(919.10,525.00) scale(1,0.94)" font-size="13.80">1</text>
<text transform="translate(970.61,487.10) scale(1,0.94)" font-size="13.80">2</text>
<text transform="translate(970.75,579.90) scale(1,0.94)" font-size="13.80">3</text>
<text transform="translate(929.11,583.60) scale(1,0.94)" font-size="13.80">C6</text>
<text transform="translate(928.65,597.50) scale(1,0.94)" font-size="14.33">N.M.</text>
<text transform="translate(990.21,509.00) scale(1,0.94)" font-size="13.85">Q1/Q1A</text>
<text transform="translate(989.75,526.30) scale(1,0.94)" font-size="14.33">N.M.</text>
<text transform="translate(990.62,540.00) scale(1,0.94)" font-size="13.83">TO247/TO220</text>
<text transform="translate(817.26,525.00) scale(1,0.94)" font-size="13.66">VH_L</text>
<text transform="translate(845.31,576.60) scale(1,0.94)" font-size="13.80">C20</text>
<text transform="translate(839.13,591.20) scale(1,0.94)" font-size="13.33">1uF 50V</text>
<text transform="translate(776.71,583.60) scale(1,0.94)" font-size="14.30">JP12</text>
<text transform="translate(761.92,597.50) scale(1,0.94)" font-size="13.67">CLOSED</text>
<text transform="translate(761.21,648.00) scale(1,0.94)" font-size="13.80">C18</text>
<text transform="translate(761.51,683.40) scale(1,0.94)" font-size="13.66">1uF 50V</text>
<text transform="translate(991.90,46.60) scale(1,0.94)" font-size="13.80">HV</text>
<text transform="translate(1056.90,40.80) scale(1,0.94)" font-size="13.80">1</text>
<text transform="translate(1055.91,54.80) scale(1,0.94)" font-size="13.80">2</text>
<text transform="translate(1066.80,21.60) scale(1,0.94)" font-size="14.03">CN6</text>
<text transform="translate(1104.66,23.10) scale(1,0.94)" font-size="19.20">HV</text>
<text transform="translate(1081.90,49.80) scale(1,0.94)" font-size="13.80">1</text>
<text transform="translate(1081.71,64.90) scale(1,0.94)" font-size="13.80">2</text>
<text transform="translate(1087.83,89.50) scale(1,0.94)" font-size="13.40">TE 928814-1</text>
<text transform="translate(1029.73,129.30) scale(1,0.94)" font-size="13.56">TP20</text>
<text transform="translate(983.92,240.40) scale(1,0.94)" font-size="13.63">OUT</text>
<text transform="translate(1056.90,234.60) scale(1,0.94)" font-size="13.80">1</text>
<text transform="translate(1055.91,248.50) scale(1,0.94)" font-size="13.80">2</text>
<text transform="translate(1066.49,214.40) scale(1,0.94)" font-size="14.24">CN5</text>
<text transform="translate(1104.87,216.20) scale(1,0.94)" font-size="18.58">OUT</text>
<text transform="translate(1081.90,243.40) scale(1,0.94)" font-size="13.80">1</text>
<text transform="translate(1081.71,257.30) scale(1,0.94)" font-size="13.80">2</text>
<text transform="translate(1087.83,282.60) scale(1,0.94)" font-size="13.40">TE 928814-1</text>
<text transform="translate(1029.73,305.30) scale(1,0.94)" font-size="13.62">TP21</text>
<text transform="translate(971.31,611.40) scale(1,0.94)" font-size="13.89">GNDPWR</text>
<text transform="translate(1056.90,597.50) scale(1,0.94)" font-size="13.80">1</text>
<text transform="translate(1055.91,611.40) scale(1,0.94)" font-size="13.80">2</text>
<text transform="translate(1066.49,577.30) scale(1,0.94)" font-size="14.24">CN3</text>
<text transform="translate(1105.60,579.40) scale(1,0.94)" font-size="20.09">GNDPWR</text>
<text transform="translate(1081.90,606.40) scale(1,0.94)" font-size="13.80">1</text>
<text transform="translate(1081.71,620.20) scale(1,0.94)" font-size="13.80">2</text>
<text transform="translate(1087.83,646.80) scale(1,0.94)" font-size="13.47">TE 928814-1</text>
<text transform="translate(1029.73,677.00) scale(1,0.94)" font-size="13.56">TP23</text>
<text transform="translate(21.92,366.20) scale(1,0.94)" font-size="13.80">TP9</text>
<text transform="translate(67.24,383.00) scale(1,0.94)" font-size="19.29">GND</text>
<text transform="translate(351.36,369.10) scale(1,0.94)" font-size="13.86">VH_L</text>
<text transform="translate(549.56,369.10) scale(1,0.94)" font-size="13.91">VH_H</text>
<text transform="translate(402.53,385.00) scale(1,0.94)" font-size="14.66">R3 N.M.</text>
<text transform="translate(468.21,390.60) scale(1,0.94)" font-size="13.80">2</text>
<text transform="translate(486.70,369.60) scale(1,0.94)" font-size="13.80">D3</text>
<text transform="translate(543.00,390.60) scale(1,0.94)" font-size="13.80">1</text>
<text transform="translate(469.51,419.60) scale(1,0.94)" font-size="13.88">STTH112A</text>
</svg></body></html>
